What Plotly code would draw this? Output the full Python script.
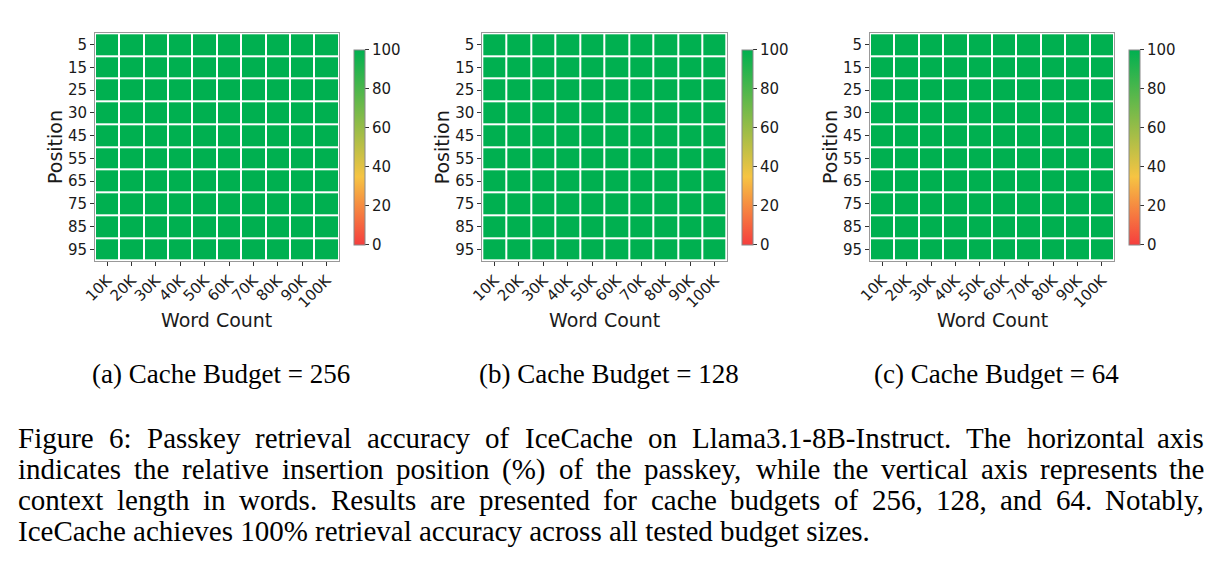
import plotly.graph_objects as go

W, H = 1222, 565

# ---------------- data ----------------
word_counts = ["10K", "20K", "30K", "40K", "50K", "60K", "70K", "80K", "90K", "100K"]
positions = ["5", "15", "25", "30", "45", "55", "65", "75", "85", "95"]
acc_256 = [[100] * 10 for _ in range(10)]
acc_128 = [[100] * 10 for _ in range(10)]
acc_64 = [[100] * 10 for _ in range(10)]
cbar_ticks = [0, 20, 40, 60, 80, 100]
subcaptions = ["(a) Cache Budget = 256", "(b) Cache Budget = 128", "(c) Cache Budget = 64"]
caption_lines = [
    "Figure 6: Passkey retrieval accuracy of IceCache on Llama3.1-8B-Instruct. The horizontal axis",
    "indicates the relative insertion position (%) of the passkey, while the vertical axis represents the",
    "context length in words. Results are presented for cache budgets of 256, 128, and 64. Notably,",
    "IceCache achieves 100% retrieval accuracy across all tested budget sizes.",
]

# ---------------- styling ----------------
colorscale = [
    [0.0, "rgb(245,62,62)"],
    [0.35, "rgb(246,196,67)"],
    [1.0, "rgb(0,176,80)"],
]
SANS = "DejaVu Sans"
SERIF = "Liberation Serif"
TXT = "#1a1a1a"

panels_x = [(95, 338.7), (482.3, 726.7), (870, 1114)]
hm_top, hm_bot = 33.3, 260.7
cbar_left = [354, 742, 1129]
cbar_top, cbar_bot = 50, 244.5

def px(x):
    return x / W

def py(y):
    return 1 - y / H

fig = go.Figure()
datas = [acc_256, acc_128, acc_64]
annotations = []
for i, (data, (l, r)) in enumerate(zip(datas, panels_x)):
    xa = "x" if i == 0 else f"x{i+1}"
    ya = "y" if i == 0 else f"y{i+1}"
    fig.add_trace(go.Heatmap(
        z=data, x=word_counts, y=positions,
        xaxis=xa, yaxis=ya,
        zmin=0, zmax=100, colorscale=colorscale,
        xgap=2, ygap=2,
        hoverinfo="skip",
        colorbar=dict(
            x=px(cbar_left[i]), xanchor="left", xpad=0,
            y=py((cbar_top + cbar_bot) / 2), yanchor="middle", ypad=0,
            lenmode="pixels", len=cbar_bot - cbar_top,
            thicknessmode="pixels", thickness=11,
            outlinewidth=1, outlinecolor="#888888",
            tickvals=cbar_ticks, ticks="outside", ticklen=4, tickwidth=1,
            tickcolor="#333333",
            tickfont=dict(family=SANS, size=15, color=TXT),
        ),
    ))
    axsuf = "" if i == 0 else str(i + 1)
    fig.layout["xaxis" + axsuf] = dict(
        domain=[px(l), px(r)], anchor=ya, type="category",
        tickangle=-45, ticks="outside", ticklen=4, tickwidth=1, tickcolor="#333333",
        tickfont=dict(family=SANS, size=15, color=TXT),
        showline=True, linecolor="#999999", linewidth=1, mirror=True,
        showgrid=False, zeroline=False, fixedrange=True, automargin=False,
    )
    fig.layout["yaxis" + axsuf] = dict(
        domain=[py(hm_bot), py(hm_top)], anchor=xa, type="category",
        autorange="reversed", ticks="outside", ticklen=4, tickwidth=1, tickcolor="#333333",
        tickfont=dict(family=SANS, size=15, color=TXT),
        showline=True, linecolor="#999999", linewidth=1, mirror=True,
        showgrid=False, zeroline=False, fixedrange=True, automargin=False,
    )
    annotations.append(dict(
        text="Position", xref="paper", yref="paper",
        x=px(l - 40), y=py((hm_top + hm_bot) / 2), xanchor="center", yanchor="middle",
        textangle=-90, showarrow=False, font=dict(family=SANS, size=19, color=TXT),
    ))
    annotations.append(dict(
        text="Word Count", xref="paper", yref="paper",
        x=px((l + r) / 2), y=py(320), xanchor="center", yanchor="middle",
        showarrow=False, font=dict(family=SANS, size=19, color=TXT),
    ))
    annotations.append(dict(
        text=subcaptions[i], xref="paper", yref="paper",
        x=px((l + r) / 2 + 4), y=py(374), xanchor="center", yanchor="middle",
        showarrow=False, font=dict(family=SERIF, size=27, color="#000000"),
    ))

# ---- justified caption: place words using Times metrics ----
widths = {" ": 250, "a": 444, "b": 500, "c": 444, "d": 500, "e": 444, "f": 333, "g": 500,
          "h": 500, "i": 278, "j": 278, "k": 500, "l": 278, "m": 778, "n": 500, "o": 500,
          "p": 500, "q": 500, "r": 333, "s": 389, "t": 278, "u": 500, "v": 500, "w": 722,
          "x": 500, "y": 500, "z": 444, "A": 722, "B": 667, "C": 667, "D": 722, "E": 611,
          "F": 556, "G": 722, "H": 722, "I": 333, "J": 389, "K": 722, "L": 611, "M": 889,
          "N": 722, "O": 722, "P": 556, "Q": 722, "R": 667, "S": 556, "T": 611, "U": 722,
          "V": 722, "W": 944, "X": 722, "Y": 722, "Z": 611, ".": 250, ",": 250, ":": 278,
          "-": 333, "(": 333, ")": 333, "%": 833, "=": 564}
for d in "0123456789":
    widths[d] = 500

CAP_SIZE = 29
def wwidth(word):
    return sum(widths.get(ch, 500) for ch in word) / 1000 * CAP_SIZE

cap_left, cap_right = 17, 1205
line_y = [438, 469, 500, 531]
for li, line in enumerate(caption_lines):
    words = line.split(" ")
    justified = li < len(caption_lines) - 1
    if justified:
        total = sum(wwidth(w) for w in words)
        gap = (cap_right - cap_left - total) / (len(words) - 1)
        x = cap_left
        for wi, w in enumerate(words):
            last = wi == len(words) - 1
            annotations.append(dict(text=w, xref="paper", yref="paper",
                                    x=px(cap_right if last else x),
                                    y=py(line_y[li]), xanchor="right" if last else "left",
                                    yanchor="middle", showarrow=False, borderpad=0,
                                    font=dict(family=SERIF, size=CAP_SIZE, color="#000")))
            x += wwidth(w) + gap
    else:
        annotations.append(dict(text=line, xref="paper", yref="paper", x=px(cap_left),
                                y=py(line_y[li]), xanchor="left", yanchor="middle",
                                showarrow=False, borderpad=0,
                                font=dict(family=SERIF, size=CAP_SIZE, color="#000")))

fig.update_layout(
    width=W, height=H, margin=dict(l=0, r=0, t=0, b=0, autoexpand=False),
    paper_bgcolor="white", plot_bgcolor="white",
    annotations=annotations, showlegend=False,
)

fig.write_html("out.html", config={"displayModeBar": False})
